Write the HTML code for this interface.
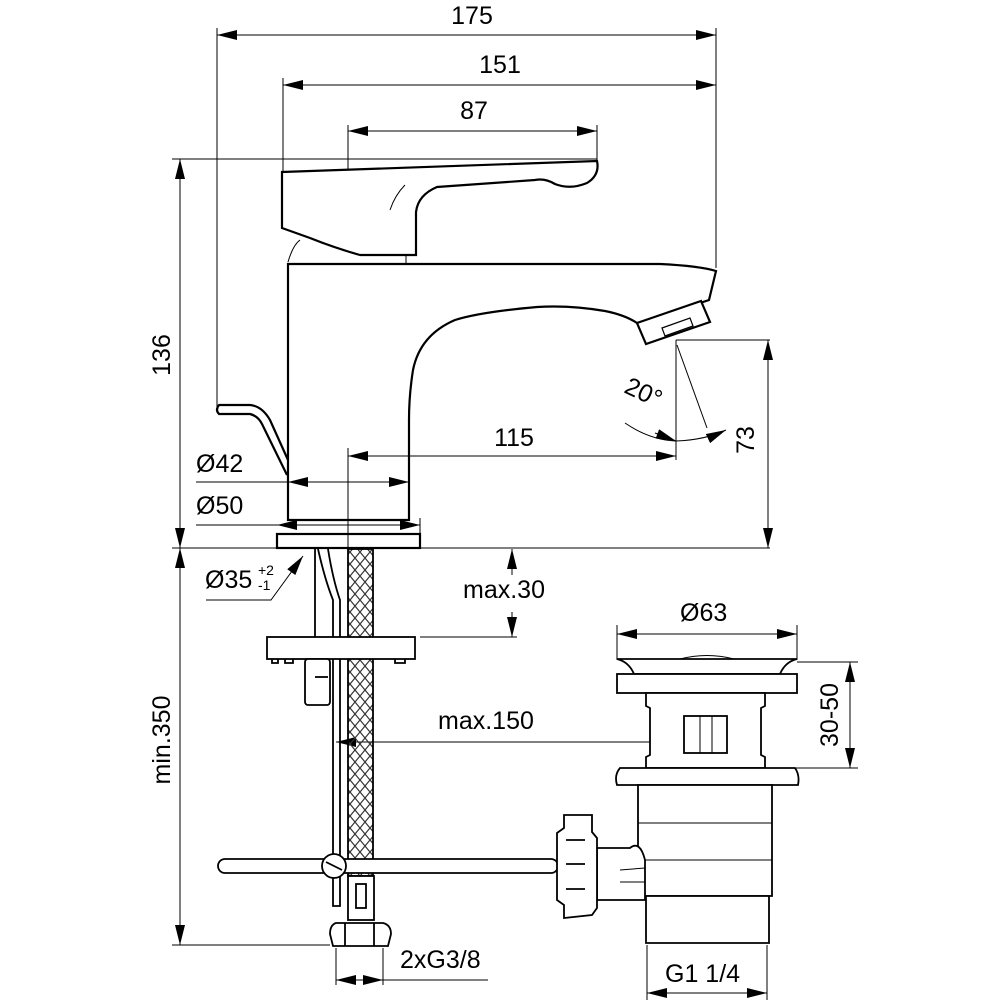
<!DOCTYPE html>
<html><head><meta charset="utf-8"><style>
html,body{margin:0;padding:0;background:#fff;}
svg{display:block;}
text{font-family:"Liberation Sans",Arial,sans-serif;fill:#000;}
</style></head><body>
<svg width="1000" height="1000" viewBox="0 0 1000 1000" xmlns="http://www.w3.org/2000/svg">
<defs>
<marker id="a" viewBox="0 0 20 10" refX="20" refY="5" markerWidth="20" markerHeight="10" markerUnits="userSpaceOnUse" orient="auto-start-reverse"><path d="M0,0L20,5L0,10z" fill="#000"/></marker>
<pattern id="br" width="10" height="12" patternUnits="userSpaceOnUse"><path d="M0,0L5,6L0,12M10,0L5,6L10,12" stroke="#333" stroke-width="1.2" fill="none"/></pattern>
</defs>
<g stroke="#000" fill="none" stroke-width="1">
<line x1="217" y1="28" x2="217" y2="410"/>
<line x1="716" y1="28" x2="716" y2="268"/>
<line x1="283" y1="78" x2="283" y2="175"/>
<line x1="348" y1="125" x2="348" y2="172"/>
<line x1="597" y1="125" x2="597" y2="160"/>
<line x1="217" y1="35" x2="716" y2="35" marker-start="url(#a)" marker-end="url(#a)"/>
<line x1="283" y1="85" x2="716" y2="85" marker-start="url(#a)" marker-end="url(#a)"/>
<line x1="348" y1="131" x2="597" y2="131" marker-start="url(#a)" marker-end="url(#a)"/>
<line x1="172" y1="159" x2="597" y2="159"/>
<line x1="180" y1="159" x2="180" y2="548" marker-start="url(#a)" marker-end="url(#a)"/>
<line x1="172" y1="548" x2="770" y2="548"/>
<line x1="180" y1="548" x2="180" y2="945" marker-start="url(#a)" marker-end="url(#a)"/>
<line x1="172" y1="945" x2="330" y2="945"/>
</g>
<g stroke="#000" fill="none" stroke-width="2.2">
<path d="M282,172 L597,161 Q600,175 587,183 Q570,190 555,184 Q545,178 535,180 L437,187 Q418,195 416,212 L416,255 L360,255 Q335,248 310,238 L282,228 Z" fill="#fff"/>
<path d="M405,185 Q395,195 390,210" stroke-width="1"/>
<path d="M288,262 Q293,245 300,240" stroke-width="1"/>
<line x1="406" y1="255" x2="406" y2="264" stroke-width="1"/>
<path d="M288,264 L660,264 Q700,266 716,271 L709,300 L660,316 L637,323 Q625,315 605,311 Q570,305 537,307 Q480,312 455,320 Q420,335 413,370 Q409,395 409,420 L409,520 L288,520 Z" fill="#fff"/>
<path d="M637,323 L701,301 L710,322 L646,344 Z" fill="#fff"/>
<path d="M662,328 L690,318 L693,326 L665,336 Z" stroke-width="1.2"/>
<path d="M288,460 L270,420 Q262,406 250,405 L219,405 Q215,410 219,414 L250,414 Q258,416 262,424 L287,475" />
<rect x="277" y="534" width="143" height="14" fill="#fff"/>
</g>
<g stroke="#000" fill="none" stroke-width="1">
<line x1="348" y1="448" x2="348" y2="548"/>
<line x1="348" y1="456" x2="676" y2="456" marker-start="url(#a)" marker-end="url(#a)"/>
<line x1="676" y1="340" x2="676" y2="460"/>
<line x1="676" y1="340" x2="770" y2="340"/>
<line x1="677" y1="345" x2="707" y2="428"/>
<path d="M625,423 Q650,440 676,441 Q705,440 726,430" marker-end="url(#a)"/>
<path d="M655,433 L676,441" marker-end="url(#a)"/>
<line x1="196" y1="482" x2="409" y2="482"/>
<line x1="288" y1="482" x2="409" y2="482" marker-start="url(#a)" marker-end="url(#a)"/>
<line x1="196" y1="525" x2="420" y2="525"/>
<line x1="277" y1="525" x2="420" y2="525" marker-start="url(#a)" marker-end="url(#a)"/>
<line x1="420" y1="518" x2="420" y2="534"/>
<line x1="768" y1="340" x2="768" y2="548" marker-start="url(#a)" marker-end="url(#a)"/>
<path d="M206,600 L271,600 L303,556" marker-end="url(#a)"/>
<line x1="512" y1="575" x2="512" y2="549" marker-end="url(#a)"/>
<line x1="512" y1="612" x2="512" y2="637" marker-end="url(#a)"/>
<line x1="420" y1="637" x2="517" y2="637"/>
<line x1="708" y1="742" x2="336" y2="742" marker-start="url(#a)" marker-end="url(#a)"/>
<line x1="617" y1="625" x2="617" y2="660"/>
<line x1="797" y1="625" x2="797" y2="660"/>
<line x1="617" y1="634" x2="797" y2="634" marker-start="url(#a)" marker-end="url(#a)"/>
<line x1="797" y1="662" x2="858" y2="662"/>
<line x1="795" y1="768" x2="858" y2="768"/>
<line x1="850" y1="662" x2="850" y2="768" marker-start="url(#a)" marker-end="url(#a)"/>
<line x1="336" y1="948" x2="336" y2="985"/>
<line x1="383" y1="948" x2="383" y2="985"/>
<line x1="336" y1="980" x2="360" y2="980" marker-start="url(#a)"/>
<line x1="360" y1="980" x2="383" y2="980" marker-end="url(#a)"/>
<line x1="383" y1="980" x2="488" y2="980"/>
<line x1="647" y1="945" x2="647" y2="1000"/>
<line x1="767" y1="945" x2="767" y2="1000"/>
<line x1="647" y1="993" x2="767" y2="993" marker-start="url(#a)" marker-end="url(#a)"/>
</g>
<g stroke="#000" fill="none" stroke-width="1.8">
<line x1="315" y1="549" x2="315" y2="637"/>
<path d="M318,549 Q325,580 333,600 L333,906 L340,906 L340,600 Q333,580 328,549"/>
<rect x="348" y="549" width="25" height="327" fill="url(#br)"/>
<rect x="267" y="637" width="148" height="22" fill="#fff"/>
<path d="M272,659 v4 h6 v-4 M285,659 v4 h8 v-4 M395,659 v4 h10 v-4"/>
<rect x="305" y="659" width="25" height="46" rx="3" fill="#fff"/>
<line x1="315" y1="677" x2="328" y2="677"/>
<rect x="218" y="859" width="340" height="14" rx="7" fill="#fff"/>
<circle cx="334" cy="866" r="12" fill="#fff"/>
<line x1="326" y1="862" x2="342" y2="870"/>
<rect x="348" y="876" width="26" height="44" fill="#fff"/>
<rect x="356" y="884" width="10" height="24"/>
<path d="M336,923 L383,923 Q391,925 391,934 L388,946 L333,946 L330,934 Q330,925 336,923 Z" fill="#fff"/>
<line x1="345" y1="923" x2="345" y2="946"/><line x1="374" y1="923" x2="374" y2="946"/>
<path d="M617,659 L797,659 Q785,662 780,674 L634,674 Q629,662 617,659 Z" fill="#fff"/>
<path d="M680,659 Q707,652 734,659" stroke-width="1"/>
<rect x="617" y="674" width="180" height="19" fill="#fff"/>
<path d="M646,693 L646,706 L650,708 L650,755 L646,757 L646,768 L765,768 L765,757 L761,755 L761,708 L765,706 L765,693 Z" fill="#fff"/>
<rect x="684" y="716" width="43" height="37"/>
<line x1="700" y1="716" x2="700" y2="753" stroke-width="1"/><line x1="712" y1="716" x2="712" y2="753" stroke-width="1"/>
<path d="M620,768 L795,768 Q800,775 798,785 L617,785 Q614,775 620,768 Z" fill="#fff"/>
<path d="M638,785 L772,785 L772,896 L638,896 Z" fill="#fff"/>
<line x1="638" y1="823" x2="772" y2="823" stroke-width="1"/>
<line x1="638" y1="860" x2="772" y2="860" stroke-width="1"/>
<path d="M646,896 L769,896 L769,943 L646,943 Z" fill="#fff"/>
<path d="M597,848 L630,848 Q640,840 645,860 L645,900 L597,900 Z" fill="#fff"/>
<line x1="620" y1="870" x2="645" y2="868" stroke-width="1"/><line x1="620" y1="882" x2="645" y2="882" stroke-width="1"/>
<path d="M564,815 L592,815 L592,832 L597,838 L597,908 L592,915 L564,918 L564,905 L557,900 L557,833 L564,828 Z" fill="#fff"/>
<line x1="566" y1="840" x2="585" y2="840"/><line x1="566" y1="864" x2="585" y2="864"/><line x1="566" y1="889" x2="585" y2="889"/>
</g>
<g font-size="25">
<text x="472" y="24" text-anchor="middle">175</text>
<text x="500" y="73" text-anchor="middle">151</text>
<text x="474" y="119" text-anchor="middle">87</text>
<text x="514" y="446" text-anchor="middle">115</text>
<text x="196" y="472">Ø42</text>
<text x="196" y="514">Ø50</text>
<text x="205" y="588">Ø35</text>
<text x="258" y="575" font-size="14">+2</text>
<text x="258" y="590" font-size="14">-1</text>
<text x="463" y="598">max.30</text>
<text x="438" y="729">max.150</text>
<text x="680" y="621">Ø63</text>
<text x="400" y="968">2xG3/8</text>
<text x="665" y="982">G1 1/4</text>
<text transform="translate(170,355) rotate(-90)" text-anchor="middle">136</text>
<text transform="translate(170,740) rotate(-90)" text-anchor="middle">min.350</text>
<text transform="translate(754,440) rotate(-90)" text-anchor="middle">73</text>
<text transform="translate(838,715) rotate(-90)" text-anchor="middle">30-50</text>
<text transform="translate(640,400) rotate(25)" text-anchor="middle">20°</text>
</g>
</svg>
</body></html>
